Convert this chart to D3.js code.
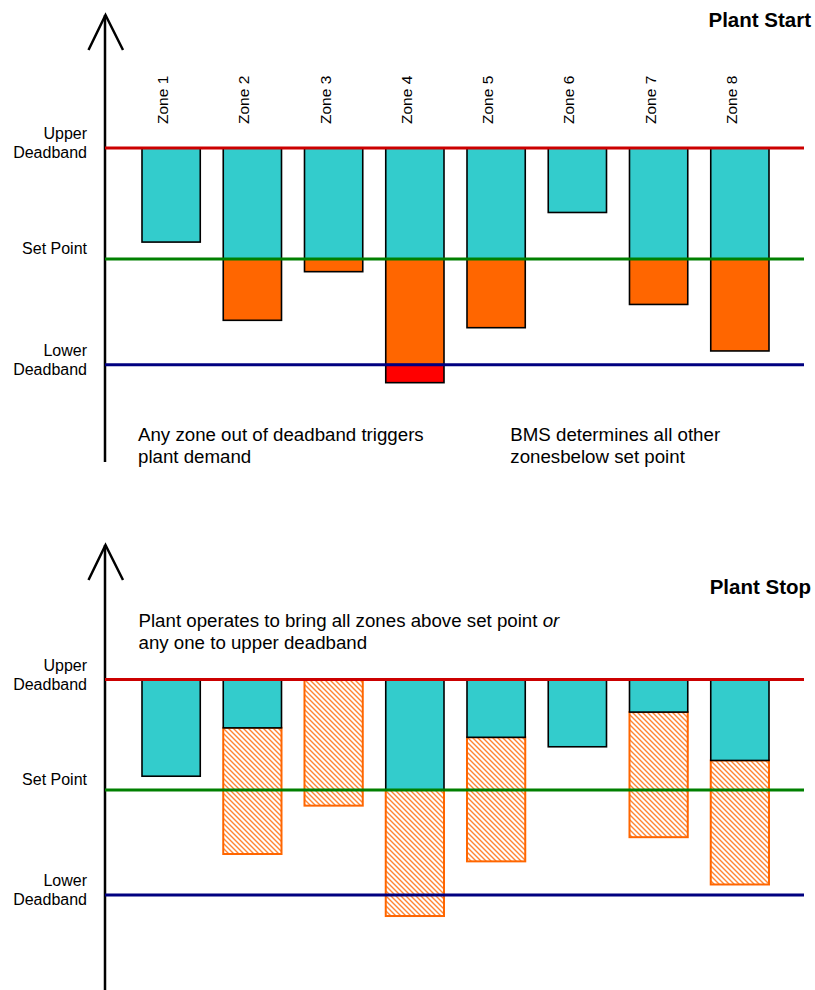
<!DOCTYPE html>
<html>
<head>
<meta charset="utf-8">
<script src="https://cdn.jsdelivr.net/npm/d3@7"></script>
<style>
  html, body { margin: 0; padding: 0; background: #fff; }
  svg { display: block; font-family: "Liberation Sans", Arial, sans-serif; }
</style>
</head>
<body>
<svg id="chart" width="815" height="990"></svg>
<script>
// ---------- data ----------
const zones = ["Zone 1", "Zone 2", "Zone 3", "Zone 4", "Zone 5", "Zone 6", "Zone 7", "Zone 8"];
// Plant Start: each zone's temperature relative to the set point (upper deadband = 105, lower = -100)
const startValues = [16, -58, -12, -117, -65, 44, -43, -87];
// Plant Stop: current value (cyan) and projected value (hatched)
const stopCurrent = [13, 59, 105, 0, 50, 41, 74, 28];
const stopProjected = [null, -61, -15, -120, -68, null, -45, -90];
const levelNames = [["Upper", "Deadband"], ["Set Point"], ["Lower", "Deadband"]];
const levelValues = [105, 0, -100];
const panelTitles = ["Plant Start", "Plant Stop"];
const startNotes = [["Any zone out of deadband triggers", "plant demand"], ["BMS determines all other", "zonesbelow set point"]];

// ---------- styles ----------
const levelColors = ["#cc0000", "#008000", "#000080"];
const cyan = "#33cccc", orange = "#ff6600", red = "#ff0000";

const svg = d3.select("#chart");
const defs = svg.append("defs");
const pat = defs.append("pattern")
  .attr("id", "hatch").attr("patternUnits", "userSpaceOnUse")
  .attr("width", 5).attr("height", 5);
pat.append("rect").attr("width", 5).attr("height", 5).attr("fill", "#fff");
pat.append("path").attr("d", "M-1,-1 L6,6 M-1,4 L1,6 M4,-1 L6,1")
  .attr("stroke", orange).attr("stroke-width", 1.4).attr("stroke-opacity", 0.8);

const x = d3.scaleBand().domain(zones).range([142, 769]).paddingInner(0.283).paddingOuter(0);
const lo = levelValues[2], hi = levelValues[0], sp = levelValues[1];
const yTop = d3.scaleLinear().domain([lo, hi]).range([364.7, 148]);
const yBot = d3.scaleLinear().domain([lo, hi]).range([895, 679.5]);

function drawAxis(yStart, yEnd) {
  svg.append("path")
    .attr("d", `M105,${yEnd} L105,${yStart}`)
    .attr("stroke", "#000").attr("stroke-width", 2.5).attr("fill", "none");
  svg.append("path")
    .attr("d", `M88.5,${yStart + 35} L105.5,${yStart} L123,${yStart + 35}`)
    .attr("stroke", "#000").attr("stroke-width", 2.5).attr("fill", "none");
}

function drawLevels(y) {
  const g = svg.append("g");
  g.selectAll("line").data(levelValues).join("line")
    .attr("x1", 105).attr("x2", 804)
    .attr("y1", d => y(d)).attr("y2", d => y(d))
    .attr("stroke", (d, i) => levelColors[i]).attr("stroke-width", 3);
  const t = svg.append("g").selectAll("text").data(levelValues).join("text")
    .attr("text-anchor", "end").attr("font-size", 16).attr("fill", "#000");
  t.each(function(d, i) {
    const lines = levelNames[i];
    const sel = d3.select(this);
    if (lines.length === 1) {
      sel.append("tspan").attr("x", 87).attr("y", y(d) - 4.5).text(lines[0]);
    } else {
      sel.append("tspan").attr("x", 87).attr("y", y(d) - 9).text(lines[0]);
      sel.append("tspan").attr("x", 87).attr("y", y(d) + 10).text(lines[1]);
    }
  });
}

function seg(g, top, bottom, y, zone, fill, stroke, sw) {
  g.append("rect")
    .attr("x", x(zone)).attr("width", x.bandwidth())
    .attr("y", y(top)).attr("height", Math.max(0, y(bottom) - y(top)))
    .attr("fill", fill).attr("stroke", stroke).attr("stroke-width", sw || 1.6);
}

// ---------- Plant Start ----------
drawAxis(15, 462);
const gTop = svg.append("g");
zones.forEach((z, i) => {
  const v = startValues[i];
  seg(gTop, hi, Math.max(v, sp), yTop, z, cyan, "#000");
  if (v < sp) seg(gTop, sp, Math.max(v, lo), yTop, z, orange, "#000");
  if (v < lo) seg(gTop, lo, v, yTop, z, red, "#000");
});
drawLevels(yTop);

svg.append("g").selectAll("text").data(zones).join("text")
  .attr("transform", d => `translate(${x(d) + x.bandwidth() / 2 - 3},124) rotate(-90)`)
  .attr("font-size", 15.5).attr("fill", "#000")
  .text(d => d);

svg.append("text").attr("x", 811).attr("y", 27).attr("text-anchor", "end")
  .attr("font-size", 20.5).attr("font-weight", "bold").text(panelTitles[0]);

const noteX = [138, 510.3];
startNotes.forEach((lines, k) => {
  const t = svg.append("text").attr("font-size", 18.7).attr("fill", "#000");
  lines.forEach((ln, j) => t.append("tspan").attr("x", noteX[k]).attr("y", 441 + j * 22).text(ln));
});

// ---------- Plant Stop ----------
drawAxis(545, 990);
const gBot = svg.append("g");
zones.forEach((z, i) => {
  const c = stopCurrent[i], p = stopProjected[i];
  if (p !== null) seg(gBot, c, p, yBot, z, "url(#hatch)", orange, 2);
  if (c < hi) seg(gBot, hi, c, yBot, z, cyan, "#000");
});
drawLevels(yBot);

svg.append("text").attr("x", 811).attr("y", 594).attr("text-anchor", "end")
  .attr("font-size", 20.5).attr("font-weight", "bold").text(panelTitles[1]);

const stopNote = svg.append("text").attr("font-size", 18.7).attr("fill", "#000");
const l1 = stopNote.append("tspan").attr("x", 138.5).attr("y", 627);
l1.append("tspan").text("Plant operates to bring all zones above set point ");
l1.append("tspan").attr("font-style", "italic").text("or");
stopNote.append("tspan").attr("x", 138.5).attr("y", 649).text("any one to upper deadband");
</script>
</body>
</html>
